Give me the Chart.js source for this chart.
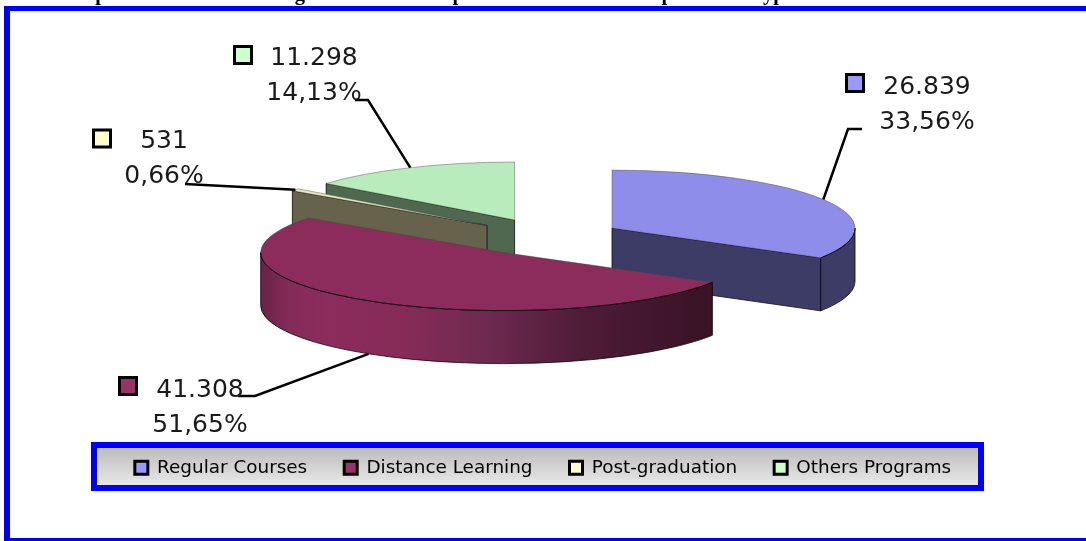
<!DOCTYPE html>
<html>
<head>
<meta charset="utf-8">
<title>Enrollments per type</title>
<style>
  html, body { margin: 0; padding: 0; background: #fff; }
  canvas { display: block; }
</style>
</head>
<body>
<canvas id="enrollChart" width="1086" height="541"></canvas>
<script src="https://cdn.jsdelivr.net/npm/chart.js@4/dist/chart.umd.min.js"></script>
<script>
const categories = ["Regular Courses", "Distance Learning", "Post-graduation", "Others Programs"];
const enrollments = [26839, 41308, 531, 11298];
const faceColors = ["#8e8eea", "#8b2c5c", "#e8e8ba", "#b9ecbc"];
const sideColors = ["#3c3c66", "#8b2c5c", "#66624c", "#50684f"];
const swatchColors = ["#9999ff", "#993366", "#ffffcc", "#ccffcc"];
const sliceExplode = [0.303, 0.328, 0.318, 0.32];
const headline = "Graph 1 - Enrollment in higher education at public state institutions per school type";

const TILT = 58 / 243;      // ellipse height over width
const DEPTH = 53;           // pie thickness in px
const PIE_SHIFT_X = 5;      // pie sits a little right of the legend's centre
const paintOrder = [3, 2, 0, 1];  // back to front

// where each slice's callout sits
const callouts = [
  { boxX: 846.5, boxY: 74.5, textX: 927, valueY: 94, pctY: 129, elbow: [848, 129], tail: 862 },
  { boxX: 119.5, boxY: 377.5, textX: 200, valueY: 397, pctY: 432, elbow: [255, 396], tail: 238 },
  { boxX: 93.5, boxY: 130, textX: 164, valueY: 148, pctY: 183, elbow: null, tail: 185, tailY: 184 },
  { boxX: 234.5, boxY: 46.5, textX: 314, valueY: 65, pctY: 100, elbow: [368, 100], tail: 355 }
];

const total = enrollments.reduce((a, b) => a + b, 0);

function fmtValue(v) {
  return String(v).replace(/\B(?=(\d{3})+$)/g, ".");
}
function fmtPct(v) {
  return (v / total * 100).toFixed(2).replace(".", ",") + "%";
}

// centre of a slice after it is pulled out of the pie
function sliceCentre(arc, i) {
  const mid = (arc.startAngle + arc.endAngle) / 2;
  const push = sliceExplode[i] * arc.outerRadius;
  return { x: arc.x + PIE_SHIFT_X + Math.cos(mid) * push, y: arc.y + Math.sin(mid) * push * TILT };
}

function sideFill(ctx, i, c, r) {
  if (i !== 1) return sideColors[i];
  const g = ctx.createLinearGradient(c.x - r, 0, c.x + r, 0);
  g.addColorStop(0, "#6a2248");
  g.addColorStop(0.06, "#852b58");
  g.addColorStop(0.14, "#8b2c5c");
  g.addColorStop(0.3, "#862b58");
  g.addColorStop(0.46, "#6f2a50");
  g.addColorStop(0.66, "#4f1c38");
  g.addColorStop(0.9, "#3a1326");
  g.addColorStop(1, "#38121f");
  return g;
}

function drawSides(ctx, arc, i, c) {
  const r = arc.outerRadius;
  const ry = r * TILT;
  ctx.fillStyle = sideFill(ctx, i, c, r);
  ctx.strokeStyle = "rgba(0,0,0,0.75)";
  ctx.lineWidth = 1;

  // flat cut faces, only the ones turned towards the viewer
  [[arc.startAngle, -Math.cos(arc.startAngle)], [arc.endAngle, Math.cos(arc.endAngle)]].forEach(([a, facing]) => {
    if (facing < 0.01) return;
    const ex = c.x + r * Math.cos(a);
    const ey = c.y + ry * Math.sin(a);
    ctx.beginPath();
    ctx.moveTo(c.x, c.y);
    ctx.lineTo(ex, ey);
    ctx.lineTo(ex, ey + DEPTH);
    ctx.lineTo(c.x, c.y + DEPTH);
    ctx.closePath();
    ctx.fill();
    ctx.stroke();
  });

  // curved outer wall, front half only
  const from = Math.max(arc.startAngle, 0);
  const to = Math.min(arc.endAngle, Math.PI);
  if (from < to) {
    ctx.beginPath();
    ctx.ellipse(c.x, c.y, r, ry, 0, from, to);
    ctx.ellipse(c.x, c.y + DEPTH, r, ry, 0, to, from, true);
    ctx.closePath();
    ctx.fill();
    ctx.stroke();
  }
}

function drawRim(ctx, arc, c) {
  const from = Math.max(arc.startAngle, 0);
  const to = Math.min(arc.endAngle, Math.PI);
  if (from >= to) return;
  ctx.strokeStyle = "rgba(0,0,0,0.8)";
  ctx.lineWidth = 1;
  ctx.beginPath();
  ctx.ellipse(c.x, c.y, arc.outerRadius, arc.outerRadius * TILT, 0, from, to);
  ctx.stroke();
}

// Doughnut controller drawn as a tilted, exploded pie with thickness
class Pie3dController extends Chart.DoughnutController {
  draw() {
    const ctx = this.chart.ctx;
    const arcs = this.getMeta().data;
    paintOrder.forEach(i => {
      const arc = arcs[i];
      const c = sliceCentre(arc, i);
      drawSides(ctx, arc, i, c);
      ctx.save();
      ctx.translate(c.x, c.y);
      ctx.scale(1, TILT);
      ctx.translate(-arc.x, -arc.y);
      arc.draw(ctx);
      ctx.restore();
      drawRim(ctx, arc, c);
    });
  }
}
Pie3dController.id = "pie3d";
Pie3dController.defaults = Chart.DoughnutController.defaults;
Chart.register(Pie3dController);

const backdrop = {
  id: "backdrop",
  beforeDraw(chart) {
    const ctx = chart.ctx;
    ctx.save();
    ctx.fillStyle = "#fff";
    ctx.fillRect(0, 0, chart.width, chart.height);

    // page caption running off the top edge
    ctx.fillStyle = "#000";
    ctx.font = "bold 20.5px 'Liberation Serif'";
    ctx.textBaseline = "alphabetic";
    ctx.textAlign = "left";
    ctx.fillText(headline, 60, 0);

    // outer frame, open on the right
    ctx.fillStyle = "#0000ff";
    ctx.fillRect(4, 6, chart.width - 4, 5);
    ctx.fillRect(4, 6, 6, chart.height - 6);
    ctx.fillRect(4, 538, chart.width - 4, 3);

    // legend panel
    const g = ctx.createLinearGradient(0, 448, 0, 485);
    g.addColorStop(0, "#bcbcbc");
    g.addColorStop(1, "#e8e8e8");
    ctx.fillStyle = g;
    ctx.fillRect(94, 445, 887, 43);
    ctx.strokeStyle = "#0000ff";
    ctx.lineWidth = 6;
    ctx.strokeRect(94, 445, 887, 43);
    ctx.restore();
  }
};

const callout = {
  id: "callout",
  afterDatasetsDraw(chart) {
    const ctx = chart.ctx;
    const arcs = chart.getDatasetMeta(0).data;
    ctx.save();
    callouts.forEach((spot, i) => {
      const arc = arcs[i];
      const c = sliceCentre(arc, i);
      const mid = (arc.startAngle + arc.endAngle) / 2;
      const onRim = [
        c.x + Math.cos(mid) * arc.outerRadius,
        c.y + Math.sin(mid) * arc.outerRadius * TILT + (Math.sin(mid) > 0 ? DEPTH : 0)
      ];

      // leader line from the slice edge
      ctx.strokeStyle = "#000";
      ctx.lineWidth = 2.5;
      ctx.beginPath();
      ctx.moveTo(onRim[0], onRim[1]);
      if (spot.elbow) {
        ctx.lineTo(spot.elbow[0], spot.elbow[1]);
        ctx.lineTo(spot.tail, spot.elbow[1]);
      } else {
        ctx.lineTo(spot.tail, spot.tailY);
      }
      ctx.stroke();

      ctx.fillStyle = swatchColors[i];
      ctx.lineWidth = 3;
      ctx.fillRect(spot.boxX, spot.boxY, 17, 17);
      ctx.strokeRect(spot.boxX, spot.boxY, 17, 17);

      ctx.fillStyle = "#1a1a1a";
      ctx.font = "25px 'DejaVu Sans'";
      ctx.textAlign = "center";
      ctx.textBaseline = "alphabetic";
      ctx.fillText(fmtValue(enrollments[i]), spot.textX, spot.valueY);
      ctx.fillText(fmtPct(enrollments[i]), spot.textX, spot.pctY);
    });
    ctx.restore();
  }
};

new Chart(document.getElementById("enrollChart"), {
  type: "pie3d",
  data: {
    labels: categories,
    datasets: [{
      data: enrollments,
      backgroundColor: faceColors,
      borderColor: "rgba(70,70,70,0.7)",
      borderWidth: 1
    }]
  },
  options: {
    responsive: false,
    animation: false,
    radius: 243,
    cutout: 0,
    layout: { padding: { top: 52, bottom: 54 } },
    plugins: {
      tooltip: { enabled: false },
      legend: {
        position: "bottom",
        labels: {
          boxWidth: 13,
          boxHeight: 13,
          padding: 37,
          color: "#222",
          font: { family: "'DejaVu Sans'", size: 18.4 },
          generateLabels: () => categories.map((name, i) => ({
            text: name,
            fillStyle: swatchColors[i],
            strokeStyle: "#000",
            lineWidth: 3,
            index: i
          }))
        }
      }
    }
  },
  plugins: [backdrop, callout]
});
</script>
</body>
</html>
